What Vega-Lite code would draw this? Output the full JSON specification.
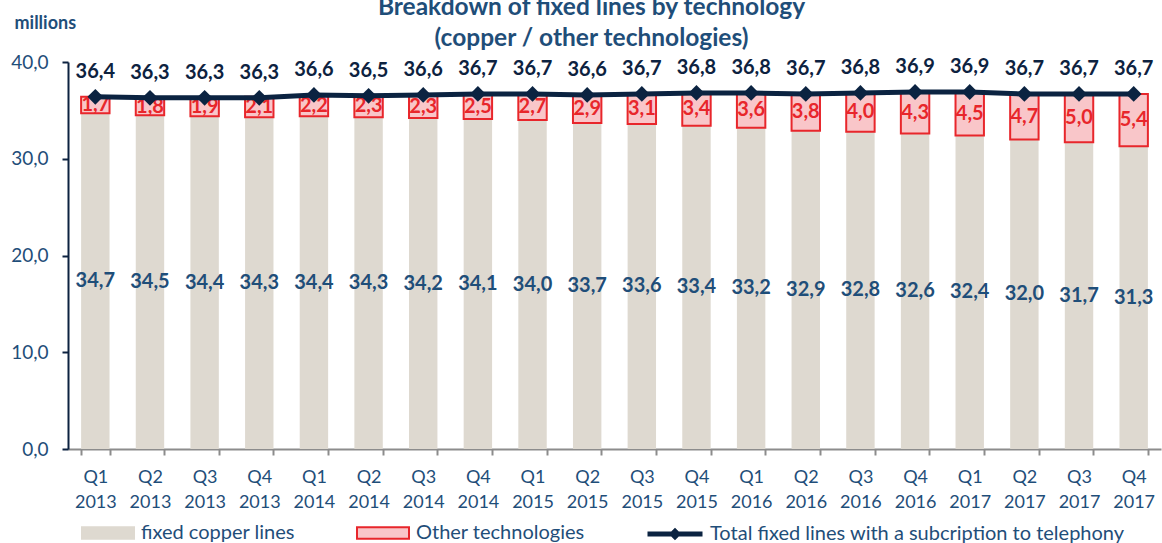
{
  "$schema": "https://vega.github.io/schema/vega-lite/v6.json",
  "width": 1093,
  "height": 387,
  "autosize": {"type": "none"},
  "padding": {"left": 68, "top": 62, "right": 1, "bottom": 94},
  "background": "white",
  "config": {
    "locale": {"number": {"decimal": ",", "thousands": " ", "grouping": [3], "currency": ["", " €"]}},
    "view": {"stroke": null},
    "font": "Lato"
  },
  "title": {
    "text": ["Breakdown of fixed lines by technology", "(copper / other technologies)"],
    "font": "Lato", "fontSize": 24.5, "fontWeight": "bold", "color": "#1F4E79",
    "lineHeight": 31, "anchor": "middle", "dx": -23, "dy": 74, "offset": 13, "baseline": "bottom"
  },
  "datasets": {
    "bars": [
      {"quarter": "Q1 2013", "technology": "fixed copper lines", "value": 34.7},
      {"quarter": "Q2 2013", "technology": "fixed copper lines", "value": 34.5},
      {"quarter": "Q3 2013", "technology": "fixed copper lines", "value": 34.4},
      {"quarter": "Q4 2013", "technology": "fixed copper lines", "value": 34.3},
      {"quarter": "Q1 2014", "technology": "fixed copper lines", "value": 34.4},
      {"quarter": "Q2 2014", "technology": "fixed copper lines", "value": 34.3},
      {"quarter": "Q3 2014", "technology": "fixed copper lines", "value": 34.2},
      {"quarter": "Q4 2014", "technology": "fixed copper lines", "value": 34.1},
      {"quarter": "Q1 2015", "technology": "fixed copper lines", "value": 34.0},
      {"quarter": "Q2 2015", "technology": "fixed copper lines", "value": 33.7},
      {"quarter": "Q3 2015", "technology": "fixed copper lines", "value": 33.6},
      {"quarter": "Q4 2015", "technology": "fixed copper lines", "value": 33.4},
      {"quarter": "Q1 2016", "technology": "fixed copper lines", "value": 33.2},
      {"quarter": "Q2 2016", "technology": "fixed copper lines", "value": 32.9},
      {"quarter": "Q3 2016", "technology": "fixed copper lines", "value": 32.8},
      {"quarter": "Q4 2016", "technology": "fixed copper lines", "value": 32.6},
      {"quarter": "Q1 2017", "technology": "fixed copper lines", "value": 32.4},
      {"quarter": "Q2 2017", "technology": "fixed copper lines", "value": 32.0},
      {"quarter": "Q3 2017", "technology": "fixed copper lines", "value": 31.7},
      {"quarter": "Q4 2017", "technology": "fixed copper lines", "value": 31.3},
      {"quarter": "Q1 2013", "technology": "Other technologies", "value": 1.7},
      {"quarter": "Q2 2013", "technology": "Other technologies", "value": 1.8},
      {"quarter": "Q3 2013", "technology": "Other technologies", "value": 1.9},
      {"quarter": "Q4 2013", "technology": "Other technologies", "value": 2.1},
      {"quarter": "Q1 2014", "technology": "Other technologies", "value": 2.2},
      {"quarter": "Q2 2014", "technology": "Other technologies", "value": 2.3},
      {"quarter": "Q3 2014", "technology": "Other technologies", "value": 2.3},
      {"quarter": "Q4 2014", "technology": "Other technologies", "value": 2.5},
      {"quarter": "Q1 2015", "technology": "Other technologies", "value": 2.7},
      {"quarter": "Q2 2015", "technology": "Other technologies", "value": 2.9},
      {"quarter": "Q3 2015", "technology": "Other technologies", "value": 3.1},
      {"quarter": "Q4 2015", "technology": "Other technologies", "value": 3.4},
      {"quarter": "Q1 2016", "technology": "Other technologies", "value": 3.6},
      {"quarter": "Q2 2016", "technology": "Other technologies", "value": 3.8},
      {"quarter": "Q3 2016", "technology": "Other technologies", "value": 4.0},
      {"quarter": "Q4 2016", "technology": "Other technologies", "value": 4.3},
      {"quarter": "Q1 2017", "technology": "Other technologies", "value": 4.5},
      {"quarter": "Q2 2017", "technology": "Other technologies", "value": 4.7},
      {"quarter": "Q3 2017", "technology": "Other technologies", "value": 5.0},
      {"quarter": "Q4 2017", "technology": "Other technologies", "value": 5.4}
    ],
    "totals": [
      {"quarter": "Q1 2013", "total": 36.4},
      {"quarter": "Q2 2013", "total": 36.3},
      {"quarter": "Q3 2013", "total": 36.3},
      {"quarter": "Q4 2013", "total": 36.3},
      {"quarter": "Q1 2014", "total": 36.6},
      {"quarter": "Q2 2014", "total": 36.5},
      {"quarter": "Q3 2014", "total": 36.6},
      {"quarter": "Q4 2014", "total": 36.7},
      {"quarter": "Q1 2015", "total": 36.7},
      {"quarter": "Q2 2015", "total": 36.6},
      {"quarter": "Q3 2015", "total": 36.7},
      {"quarter": "Q4 2015", "total": 36.8},
      {"quarter": "Q1 2016", "total": 36.8},
      {"quarter": "Q2 2016", "total": 36.7},
      {"quarter": "Q3 2016", "total": 36.8},
      {"quarter": "Q4 2016", "total": 36.9},
      {"quarter": "Q1 2017", "total": 36.9},
      {"quarter": "Q2 2017", "total": 36.7},
      {"quarter": "Q3 2017", "total": 36.7},
      {"quarter": "Q4 2017", "total": 36.7}
    ]
  },
  "encoding": {
    "x": {
      "field": "quarter", "type": "nominal", "sort": null,
      "scale": {"paddingInner": 0.48, "paddingOuter": 0.24},
      "axis": {
        "title": null, "labelExpr": "split(datum.label, ' ')", "labelAngle": 0,
        "labelFont": "Lato", "labelFontSize": 18, "labelColor": "#1F4E79",
        "labelLineHeight": 25, "labelPadding": 13, "labelBaseline": "top",
        "tickBand": "extent", "tickSize": 6, "tickColor": "#8C8C8C", "tickWidth": 2,
        "domainColor": "#8C8C8C", "domainWidth": 2
      }
    }
  },
  "layer": [
    {
      "data": {"name": "bars"},
      "mark": {"type": "bar"},
      "encoding": {
        "y": {
          "field": "value", "type": "quantitative", "stack": "zero",
          "scale": {"domain": [0, 40], "nice": false},
          "axis": {
            "title": "millions", "titleAngle": 0, "titleAlign": "left", "titleBaseline": "alphabetic",
            "titleX": -54, "titleY": -34, "titleFont": "Lato", "titleFontSize": 18,
            "titleFontWeight": "bold", "titleColor": "#1F4E79",
            "values": [0, 10, 20, 30, 40], "format": ".1f",
            "labelFont": "Lato", "labelFontSize": 19, "labelColor": "#1F4E79", "labelPadding": 14,
            "tickSize": 6, "tickColor": "#0D2240", "tickWidth": 2,
            "domainColor": "#0D2240", "domainWidth": 2, "grid": false
          }
        },
        "fill": {
          "field": "technology", "type": "nominal",
          "scale": {"domain": ["fixed copper lines", "Other technologies"], "range": ["#DED9D0", "#F9C6C9"]},
          "legend": {
            "title": null, "orient": "none", "legendX": 13, "legendY": 444, "direction": "horizontal",
            "symbolType": "M-1,-0.22H1V0.22H-1Z", "symbolSize": 2704, "symbolStrokeWidth": 2,
            "labelFont": "Lato", "labelFontSize": 20, "labelColor": "#1F4E79", "labelOffset": 6,
            "labelLimit": 500, "columnPadding": 58, "padding": 0
          }
        },
        "stroke": {
          "field": "technology", "type": "nominal",
          "scale": {"domain": ["fixed copper lines", "Other technologies"], "range": ["#DED9D0", "#E8262B"]},
          "legend": {
            "title": null, "orient": "none", "legendX": 13, "legendY": 444, "direction": "horizontal",
            "symbolType": "M-1,-0.22H1V0.22H-1Z", "symbolSize": 2704, "symbolStrokeWidth": 2,
            "labelFont": "Lato", "labelFontSize": 20, "labelColor": "#1F4E79", "labelOffset": 6,
            "labelLimit": 500, "columnPadding": 58, "padding": 0
          }
        },
        "strokeWidth": {"condition": {"test": "datum.technology === 'Other technologies'", "value": 2}, "value": 0},
        "order": {"field": "technology", "sort": "descending"}
      }
    },
    {
      "data": {"name": "bars"},
      "mark": {"type": "text", "font": "Lato", "fontSize": 20, "fontWeight": "bold", "baseline": "middle"},
      "encoding": {
        "y": {"field": "value", "type": "quantitative", "stack": "zero", "bandPosition": 0.5},
        "text": {"field": "value", "type": "quantitative", "format": ".1f"},
        "color": {"condition": {"test": "datum.technology === 'Other technologies'", "value": "#E8262B"}, "value": "#1F4E79"},
        "order": {"field": "technology", "sort": "descending"}
      }
    },
    {
      "data": {"name": "totals"},
      "mark": {"type": "line", "strokeWidth": 5, "point": {"shape": "diamond", "size": 250, "filled": true}},
      "encoding": {
        "y": {"field": "total", "type": "quantitative"},
        "color": {
          "datum": "Total fixed lines with a subcription to telephony", "type": "nominal",
          "scale": {"range": ["#0B2341"]},
          "legend": {
            "title": null, "orient": "none", "legendX": 577, "legendY": 442,
            "symbolType": "M-1,0H1M0,-0.1L0.1,0L0,0.1L-0.1,0Z", "symbolSize": 3025,
            "symbolStrokeWidth": 5, "symbolFillColor": "#0B2341",
            "labelFont": "Lato", "labelFontSize": 20, "labelColor": "#1F4E79", "labelOffset": 5,
            "labelLimit": 600, "padding": 0
          }
        }
      }
    },
    {
      "data": {"name": "totals"},
      "mark": {"type": "text", "font": "Lato", "fontSize": 20, "fontWeight": "bold", "baseline": "alphabetic", "dy": -19, "color": "#0D2240"},
      "encoding": {
        "y": {"field": "total", "type": "quantitative"},
        "text": {"field": "total", "type": "quantitative", "format": ".1f"}
      }
    }
  ]
}
